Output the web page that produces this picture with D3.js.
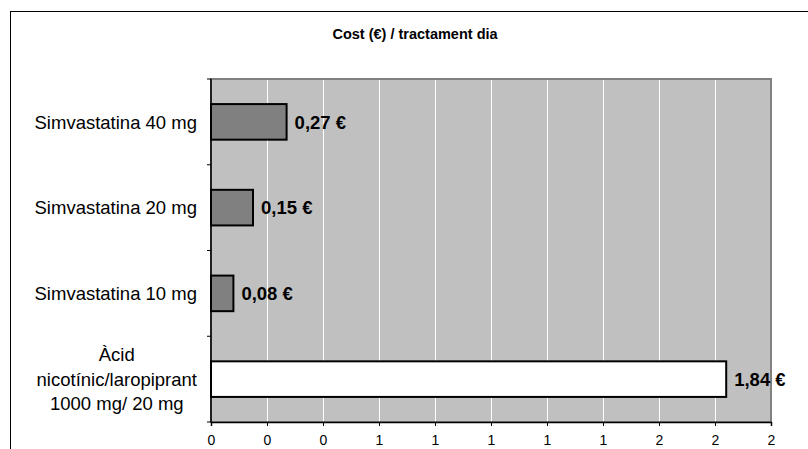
<!DOCTYPE html>
<html><head><meta charset="utf-8">
<script src="https://cdn.jsdelivr.net/npm/d3@7"></script>
<style>body{margin:0;background:#fff}svg{display:block}text{font-family:"Liberation Sans",Arial,sans-serif}</style>
</head><body>
<svg id="c" width="808" height="449"></svg>
<script>
const categories = [
  ["Simvastatina 40 mg"],
  ["Simvastatina 20 mg"],
  ["Simvastatina 10 mg"],
  ["Àcid", "nicotínic/laropiprant", "1000 mg/ 20 mg"]
];
const values = [0.27, 0.15, 0.08, 1.84];
const valueLabels = ["0,27 €", "0,15 €", "0,08 €", "1,84 €"];
const barFills = ["#808080", "#808080", "#808080", "#ffffff"];
const tickValues = [0, 0.2, 0.4, 0.6, 0.8, 1.0, 1.2, 1.4, 1.6, 1.8, 2.0];
const tickLabels = ["0", "0", "0", "1", "1", "1", "1", "1", "2", "2", "2"];
const title = "Cost (€) / tractament dia";

const svg = d3.select("#c");
const L = 211, R = 771, T = 79, B = 422;

// outer frame
svg.append("rect").attr("x", 10.5).attr("y", 11.5).attr("width", 900).attr("height", 900)
  .attr("fill", "none").attr("stroke", "#000").attr("stroke-width", 1);

svg.append("text").attr("x", 415).attr("y", 39).attr("text-anchor", "middle")
  .attr("font-weight", "bold").attr("font-size", 14.5).text(title);

const x = d3.scaleLinear().domain([0, 2]).range([L, R]);
const y = d3.scaleBand().domain(d3.range(categories.length)).range([T, B]).padding(0);

// plot background
svg.append("rect").attr("x", L).attr("y", T).attr("width", R - L).attr("height", B - T)
  .attr("fill", "#c0c0c0");

// gridlines
svg.append("g").selectAll("line").data(tickValues.slice(1, -1)).join("line")
  .attr("x1", d => Math.round(x(d)) + 0.5).attr("x2", d => Math.round(x(d)) + 0.5)
  .attr("y1", T).attr("y2", B).attr("stroke", "#fff").attr("stroke-width", 1);

// plot border
svg.append("rect").attr("x", L).attr("y", T).attr("width", R - L).attr("height", B - T)
  .attr("fill", "none").attr("stroke", "#808080").attr("stroke-width", 2);

// bars
const bh = y.bandwidth() * 0.415;
svg.append("g").selectAll("rect").data(values).join("rect")
  .attr("x", x(0)).attr("y", (d, i) => y(i) + y.bandwidth() / 2 - bh / 2)
  .attr("width", d => x(d) - x(0)).attr("height", bh)
  .attr("fill", (d, i) => barFills[i]).attr("stroke", "#000").attr("stroke-width", 2);

// value labels
svg.append("g").selectAll("text").data(values).join("text")
  .attr("x", d => x(d) + 8).attr("y", (d, i) => y(i) + y.bandwidth() / 2)
  .attr("dy", "0.36em").attr("font-weight", "bold").attr("font-size", 18.5)
  .text((d, i) => valueLabels[i]);

// x axis
const xAxis = d3.axisBottom(x).tickValues(tickValues).tickSize(4).tickPadding(9)
  .tickFormat((d, i) => tickLabels[i]);
const gx = svg.append("g").attr("transform", `translate(0,${B})`).call(xAxis);
gx.select(".domain").attr("stroke", "#000").attr("stroke-width", 1.5);
gx.selectAll(".tick line").attr("stroke", "#000");
gx.selectAll("text").attr("font-size", 14).attr("fill", "#000")
  .style("font-family", '"Liberation Sans",Arial,sans-serif');

// y axis line and ticks at band boundaries
svg.append("line").attr("x1", L).attr("x2", L).attr("y1", T).attr("y2", B)
  .attr("stroke", "#000").attr("stroke-width", 1.5);
const bounds = d3.range(categories.length + 1).map(i => T + i * y.step());
svg.append("g").selectAll("line").data(bounds).join("line")
  .attr("x1", L - 4).attr("x2", L).attr("y1", d => d).attr("y2", d => d)
  .attr("stroke", "#000").attr("stroke-width", 1);

// category labels
const lh = 24.5;
const labelRight = 197;
const cg = svg.append("g");
categories.forEach((lines, i) => {
  const t = cg.append("text").attr("font-size", 18.5).attr("text-anchor", "middle");
  const cy = y(i) + y.bandwidth() / 2;
  lines.forEach((s, j) => {
    t.append("tspan").attr("x", 0).attr("y", cy + (j - (lines.length - 1) / 2) * lh).attr("dy", "0.36em").text(s);
  });
  const w = t.node().getBBox().width;
  t.selectAll("tspan").attr("x", labelRight - w / 2);
});
</script>
</body></html>
